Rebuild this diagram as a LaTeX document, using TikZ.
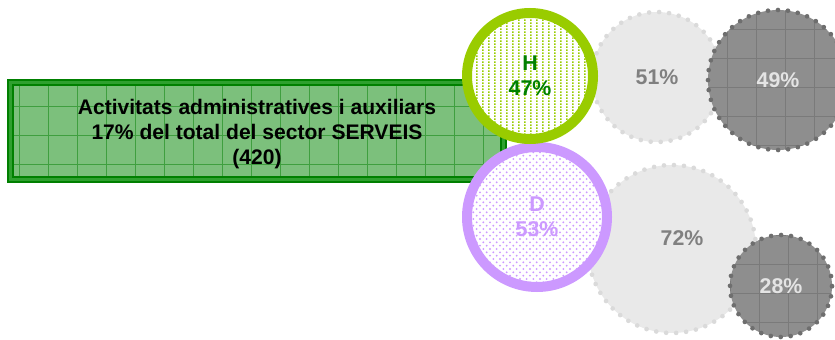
\documentclass[tikz,border=0pt]{standalone}
\usepackage{fontspec}
\setmainfont{Liberation Sans}
\usetikzlibrary{patterns}

\definecolor{sectorline}{HTML}{008000}
\definecolor{sectorgap}{HTML}{2FA02F}
\definecolor{sectorfill}{HTML}{7CC07C}
\definecolor{sectorgrid}{HTML}{3F9F3F}
\definecolor{hring}{HTML}{99CC00}
\definecolor{htext}{HTML}{008000}
\definecolor{dring}{HTML}{CC99FF}
\definecolor{lightfill}{HTML}{E9E9E9}
\definecolor{lightdot}{HTML}{DADADA}
\definecolor{lighttext}{HTML}{808080}
\definecolor{darkfill}{HTML}{8E8E8E}
\definecolor{darkdot}{HTML}{6E6E6E}
\definecolor{darkgrid}{HTML}{7A7A7A}
\definecolor{darktext}{HTML}{E4E4E4}

% fills of the two rings
\pgfdeclarepatternformonly{hdots}{\pgfqpoint{0pt}{0pt}}{\pgfqpoint{4.3pt}{2.4pt}}{\pgfqpoint{4.3pt}{2.4pt}}
{\pgfpathrectangle{\pgfqpoint{0pt}{0pt}}{\pgfqpoint{1.3pt}{1.6pt}}\pgfusepath{fill}}
\pgfdeclarepatternformonly{ddots}{\pgfqpoint{-1pt}{-1pt}}{\pgfqpoint{6pt}{6pt}}{\pgfqpoint{5pt}{5pt}}
{\pgfpathcircle{\pgfqpoint{0pt}{0pt}}{0.8pt}\pgfusepath{fill}
 \pgfpathcircle{\pgfqpoint{2.5pt}{2.5pt}}{0.8pt}\pgfusepath{fill}}

\begin{document}
\begin{tikzpicture}[x=0.75pt,y=-0.75pt]
	\tikzstyle{sector}=[rectangle, draw=sectorline, double=sectorgap, double distance=2.25pt, line width=1.5pt, fill=sectorfill, minimum width=369.75pt, minimum height=72.75pt, inner sep=0pt, align=center, font=\bfseries\fontsize{15.8}{18.4}\selectfont, path picture={\draw[sectorgrid, line width=0.6pt] (path picture bounding box.south west) grid[step=21.75pt] (path picture bounding box.north east);}]
	\tikzstyle{sexe}=[circle, line width=7.5pt, inner sep=0pt, align=center, font=\bfseries\fontsize{16}{18.75}\selectfont, preaction={fill=white}]
	\tikzstyle{light}=[circle, fill=lightfill, draw=lightdot, line width=3.5pt, dash pattern=on 0pt off 7.5pt, line cap=round, inner sep=0pt, text=lighttext, font=\bfseries\fontsize{16}{18.75}\selectfont]
	\tikzstyle{dark}=[circle, fill=darkfill, draw=darkdot, line width=3.5pt, dash pattern=on 0pt off 7.5pt, line cap=round, inner sep=0pt, text=darktext, font=\bfseries\fontsize{16}{18.75}\selectfont, path picture={\draw[darkgrid, line width=0.75pt, solid] (path picture bounding box.south west) grid[step=21.75pt] (path picture bounding box.north east);}]
	\useasboundingbox (0,0) rectangle (835,339);
	\clip (0,0) rectangle (835,339);

	\draw node[sector] at (257, 131) (total) {\rule{0pt}{16pt}Activitats administratives i auxiliars\\17\% del total del sector SERVEIS\\(420)};

	\draw node[light, minimum size=97.5pt] at (657, 77) (h51) {51\%};
	\draw node[dark, minimum size=105pt] at (778, 80) (h49) {49\%};
	\draw node[light, minimum size=126pt] at (672, 249) (d72) {};
	\draw node[text=lighttext, font=\bfseries\fontsize{16}{18.75}\selectfont] at (682, 238) (d72text) {72\%};
	\draw node[dark, minimum size=76.5pt] at (781, 286) (d28) {28\%};

	\draw node[sexe, draw=dring, pattern=ddots, pattern color=dring, text=dring, minimum size=105pt] at (537, 217) (dona) {D\\53\%};
	\draw node[sexe, draw=hring, pattern=hdots, pattern color=hring, text=htext, minimum size=94.5pt] at (530, 76) (home) {H\\47\%};
\end{tikzpicture}
\end{document}
